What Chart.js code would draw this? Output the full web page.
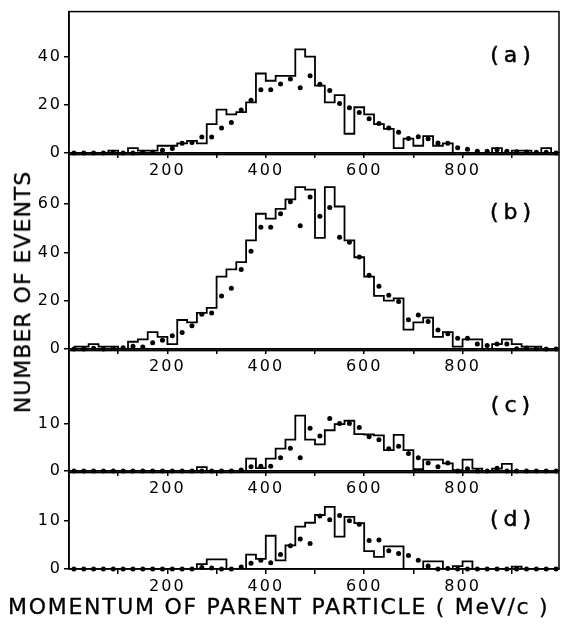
<!DOCTYPE html>
<html>
<head>
<meta charset="utf-8">
<script src="https://cdn.jsdelivr.net/npm/chart.js@4.4.1/dist/chart.umd.min.js"></script>
<style>
body { margin: 0; background: #fff; }
#wrap { position: relative; width: 565px; height: 625px; overflow: hidden; font-family: 'DejaVu Sans'; color: #000; }
#wrap canvas { position: absolute; left: 0; }
.ttl { position: absolute; white-space: nowrap; font-size: 22px; line-height: 22px; -webkit-text-stroke: 0.3px #000; }
#xtitle { left: 8px; top: 596px; letter-spacing: 1.7px; }
#ytitle { left: 23px; top: 292px; letter-spacing: 1px; transform: translate(-50%, -50%) rotate(-90deg); }
</style>
</head>
<body>
<div id="wrap">
	<canvas id="pa" width="565" height="189" style="top:0px"></canvas>
	<canvas id="pb" width="565" height="242" style="top:143px"></canvas>
	<canvas id="pc" width="565" height="168" style="top:339px"></canvas>
	<canvas id="pd" width="565" height="138" style="top:461px"></canvas>
	<div class="ttl" id="ytitle">NUMBER OF EVENTS</div>
	<div class="ttl" id="xtitle">MOMENTUM OF PARENT PARTICLE ( MeV/c )</div>
</div>
<script>
// bin centres (MeV/c), 20 MeV/c bins
var momentum = [10, 30, 50, 70, 90, 110, 130, 150, 170, 190,
	210, 230, 250, 270, 290, 310, 330, 350, 370, 390,
	410, 430, 450, 470, 490, 510, 530, 550, 570, 590,
	610, 630, 650, 670, 690, 710, 730, 750, 770, 790,
	810, 830, 850, 870, 890, 910, 930, 950, 970, 990];

var xTicks = [100, 200, 300, 400, 500, 600, 700, 800, 900];
var xLabels = [200, 400, 600, 800];

// (a)
var histA = [0, 0, 0, 0, 1, 0, 2, 1, 1, 3,
	3, 4, 5, 4, 12, 18, 16, 17, 21, 33,
	30, 32, 32, 43, 40, 28, 21, 24, 8, 19,
	16, 12, 10, 2, 6, 3, 7, 3, 4, 0,
	0, 0, 0, 2, 0, 1, 1, 0, 2, 0];
var dotsA = [0, 0, 0, 0, 0.3, 0, 0, 0.3, 0.3, 1.1,
	1.9, 4.0, 4.4, 6.6, 6.6, 10.4, 12.7, 17.9, 21.9, 26.3,
	26.3, 28.6, 30.7, 27.1, 32.1, 28.5, 25.9, 20.5, 18.8, 16.8,
	14.2, 12.2, 10.4, 8.6, 6.0, 6.7, 5.9, 4.1, 4.0, 2.2,
	1.6, 0.7, 0.7, 1.4, 0.7, 0.5, 0.4, 0.3, 0.3, 0];
var yTicksA = [0, 20, 40];

// (b)
var histB = [1, 1, 2, 1, 1, 0, 3, 4, 7, 5,
	2, 12, 11, 15, 17, 30, 33, 36, 45, 56,
	54, 58, 62, 67, 66, 46, 67, 59, 45, 38,
	30, 22, 20, 21, 8, 11, 13, 5, 7, 1,
	4, 4, 0, 2, 4, 2, 1, 1, 0, 0];
var dotsB = [0, 0, 0.3, 0, 0.3, 0.5, 1.1, 0.8, 2.6, 3.6,
	5.5, 6.8, 9.6, 14.4, 14.9, 21.9, 25.2, 32.9, 40.5, 50.4,
	50.4, 56, 61, 51, 62.9, 55, 58.6, 46.3, 44.2, 38.1,
	30.5, 26, 22.3, 19.7, 12.1, 14.1, 11.4, 7.9, 6.3, 4.5,
	4.5, 2.1, 1.5, 2.1, 2.1, 0.1, 0.4, 0.1, 0, 0];
var yTicksB = [0, 20, 40, 60];

// (c)
var histC = [0, 0, 0, 0, 0, 0, 0, 0, 0, 0,
	0, 0, 0, 0.8, 0, 0, 0, 0, 2.6, 0.6,
	2.6, 4.7, 6.6, 11.7, 6.6, 5.6, 8.6, 9.9, 10.6, 7.8,
	7.7, 7.5, 4.4, 7.6, 4.4, 0.4, 2.4, 2.4, 1.6, 0.2,
	2.4, 0.5, 0, 0.5, 1.5, 0, 0, 0, 0, 0];
var dotsC = [0, 0, 0, 0, 0, 0, 0, 0, 0, 0,
	0, 0, 0, 0, 0, 0, 0, 0.2, 0.9, 1.0,
	1.0, 2.8, 4.8, 2.8, 9.0, 7.4, 11.1, 10.0, 10.0, 9.2,
	7.2, 6.6, 4.7, 5.2, 3.7, 2.8, 1.7, 0.9, 1.7, 0,
	0.5, 0, 0, 0.6, 0, 0, 0, 0, 0, 0];
var yTicksC = [0, 10];

// (d)
var histD = [0, 0, 0, 0, 0, 0, 0, 0, 0, 0,
	0, 0, 0, 1, 2, 2, 0, 0, 3.0, 2.1,
	6.9, 1.8, 4.9, 8.8, 9.6, 11.2, 12.9, 6.7, 10.8, 9.5,
	3.7, 2.5, 4.7, 4.7, 0, 0, 1.6, 1.6, 0, 0.6,
	1.6, 0, 0, 0, 0, 0.5, 0, 0, 0, 0];
var dotsD = [0, 0, 0, 0, 0, 0, 0, 0, 0, 0,
	0, 0, 0, 0.3, 0.2, 0, 0, 0.4, 1.2, 1.8,
	1.3, 3.0, 4.8, 6.2, 5.3, 11, 10.2, 11.1, 10, 9.3,
	5.9, 6.0, 3.8, 3.2, 2.8, 1.8, 0.6, 0, 0.1, 0,
	0, 0, 0, 0, 0, 0, 0, 0, 0, 0];
var yTicksD = [0, 10];

var tickFont = { family: 'DejaVu Sans', size: 16 };

// letter spacing for all canvas text
var spacing = {
	id: 'spacing',
	beforeUpdate: function (chart) { chart.ctx.letterSpacing = '2px'; },
	beforeDraw: function (chart) { chart.ctx.letterSpacing = '2px'; }
};

// closes the box round each panel
var frame = {
	id: 'frame',
	afterDraw: function (chart) {
		var a = chart.chartArea, ctx = chart.ctx;
		ctx.save();
		ctx.strokeStyle = '#000';
		ctx.lineWidth = 1.5;
		ctx.strokeRect(a.left, a.top, a.right - a.left, a.bottom - a.top);
		ctx.restore();
	}
};

var panelLabel = {
	id: 'panelLabel',
	afterDraw: function (chart, args, opts) {
		var a = chart.chartArea, ctx = chart.ctx;
		ctx.save();
		ctx.font = '22px "DejaVu Sans"';
		ctx.letterSpacing = '5px';
		ctx.fillStyle = '#000';
		ctx.strokeStyle = '#000';
		ctx.lineWidth = 0.5;
		ctx.textAlign = 'center';
		ctx.textBaseline = 'middle';
		ctx.fillText(opts.text, a.right - 46, a.top + opts.dy);
		ctx.strokeText(opts.text, a.right - 46, a.top + opts.dy);
		ctx.restore();
	}
};

function makePanel(id, hist, dots, yMax, yTicks, label, labelDy, xh) {
	var ctx = document.getElementById(id);
	return new Chart(ctx, {
		type: 'line',
		data: {
			datasets: [{
				data: momentum.map(function (m, i) { return { x: m, y: hist[i] }; }),
				borderColor: '#000',
				borderWidth: 1.8,
				stepped: 'middle',
				pointRadius: 0,
				fill: false
			}, {
				data: momentum.map(function (m, i) { return { x: m, y: dots[i] }; }),
				showLine: false,
				pointRadius: 2.5,
				pointBackgroundColor: '#000',
				pointBorderWidth: 0,
				clip: false
			}]
		},
		options: {
			responsive: false,
			animation: false,
			events: [],
			layout: {
				padding: { left: 0, right: 6, top: 10, bottom: 0 }
			},
			plugins: {
				legend: { display: false },
				tooltip: { enabled: false },
				panelLabel: { text: label, dy: labelDy }
			},
			scales: {
				x: {
					type: 'linear',
					min: 0,
					max: 996,
					afterFit: function (s) { s.height = xh; },
					afterBuildTicks: function (s) { s.ticks = xTicks.map(function (v) { return { value: v }; }); },
					ticks: {
						autoSkip: false,
						maxRotation: 0,
						color: '#000',
						font: tickFont,
						padding: 3,
						callback: function (v) { return xLabels.indexOf(v) >= 0 ? String(v) : ''; }
					},
					grid: { drawOnChartArea: false, drawTicks: true, tickLength: 5, color: '#000', lineWidth: 1.5 },
					border: { color: '#000', width: 1.5 }
				},
				y: {
					min: 0,
					max: yMax,
					afterFit: function (s) { s.width = 69; },
					afterBuildTicks: function (s) { s.ticks = yTicks.map(function (v) { return { value: v }; }); },
					ticks: {
						color: '#000',
						font: tickFont,
						padding: 2,
						callback: function (v) { return String(v); }
					},
					grid: { drawOnChartArea: false, drawTicks: true, tickLength: 5, color: '#000', lineWidth: 1.5 },
					border: { color: '#000', width: 1.5 }
				}
			}
		},
		plugins: [spacing, frame, panelLabel]
	});
}

var chartA = makePanel('pa', histA, dotsA, 58.7, yTicksA, '(a)', 45, 36);
var chartB = makePanel('pb', histB, dotsB, 80.5, yTicksB, '(b)', 59, 36);
var chartC = makePanel('pc', histC, dotsC, 25.4, yTicksC, '(c)', 56, 36);
var chartD = makePanel('pd', histD, dotsD, 20, yTicksD, '(d)', 48, 30);
</script>
</body>
</html>
